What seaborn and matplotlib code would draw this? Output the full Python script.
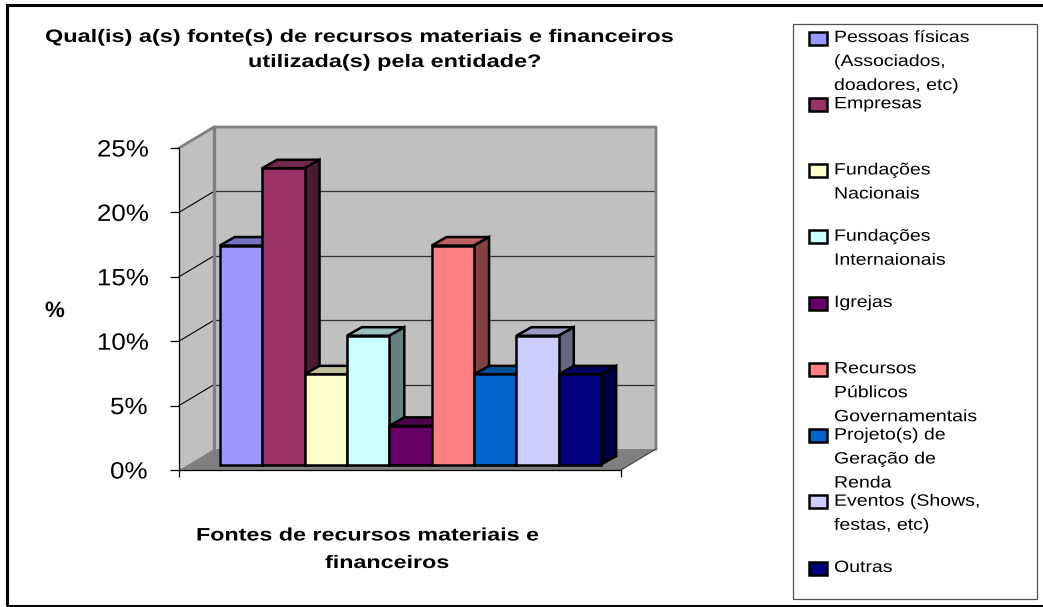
import matplotlib
matplotlib.use('Agg')
import matplotlib.pyplot as plt
import seaborn as sns
import pandas as pd
from matplotlib.colors import to_rgb
from matplotlib.patches import Polygon, Rectangle
from matplotlib.patheffects import AbstractPathEffect
from matplotlib.transforms import Affine2D

# Values
fontes = ['Pessoas físicas', 'Empresas', 'Fundações Nacionais', 'Fundações Internaionais', 'Igrejas',
          'Recursos Públicos Governamentais', 'Projeto(s) de Geração de Renda', 'Eventos', 'Outras']
valores = [17, 23, 7, 10, 3, 17, 7, 10, 7]
cores = ['#9999FF', '#993366', '#FFFFCC', '#CCFFFF', '#660066', '#FF8080', '#0066CC', '#CCCCFF', '#000080']
legenda = [['Pessoas físicas', '(Associados,', 'doadores, etc)'], ['Empresas'], ['Fundações', 'Nacionais'],
           ['Fundações', 'Internaionais'], ['Igrejas'], ['Recursos', 'Públicos', 'Governamentais'],
           ['Projeto(s) de', 'Geração de', 'Renda'], ['Eventos (Shows,', 'festas, etc)'], ['Outras']]
y_ticks = [0, 5, 10, 15, 20, 25]
y_labels = ['0%', '5%', '10%', '15%', '20%', '25%']
titulo = ['Qual(is) a(s) fonte(s) de recursos materiais e financeiros', 'utilizada(s) pela entidade?']
x_titulo = ['Fontes de recursos materiais e', 'financeiros']

W, H = 1043, 607
plt.rcParams['font.family'] = ['Liberation Sans', 'DejaVu Sans']
fig = plt.figure(figsize=(W / 100, H / 100), dpi=100, facecolor='white')


class Esticar(AbstractPathEffect):
    # the original text is letter-spaced, matplotlib can't do that, so widen the glyphs
    def __init__(self, fator):
        super().__init__()
        self.fator = fator

    def draw_path(self, renderer, gc, tpath, affine, rgbFace=None):
        renderer.draw_path(gc, tpath, Affine2D().scale(self.fator, 1) + affine, rgbFace)


def px(x, y):
    # picture pixels (origin top left) to figure fraction
    return x / W, 1 - y / H


def texto(x, y, s, fator, **kw):
    # x is the left edge, y the baseline, in picture pixels
    t = fig.text(*px(x, y), s, ha='left', va='baseline', **kw)
    t.set_path_effects([Esticar(fator)])
    return t


# Outer frame runs off the right and bottom edges, legend box inside it
fig.add_artist(Rectangle(px(7, 606), 1060 / W, 601.5 / H, transform=fig.transFigure, fill=False, ec='black', lw=2.2))
fig.add_artist(Rectangle(px(793, 599), 244 / W, 575 / H, transform=fig.transFigure, fill=False, ec='#505050', lw=0.9))

# Axes sits on the front plane of the 3D box
ax = fig.add_axes([179 / W, 1 - 470 / H, 442 / W, 322 / H])
ax.patch.set_visible(False)
df = pd.DataFrame({'fonte': fontes, 'valor': valores})
sns.barplot(data=df, x='fonte', y='valor', hue='fonte', palette=cores, width=1, legend=False,
            edgecolor='black', linewidth=1.8, saturation=1, ax=ax)
ax.set_xlim(-1.25, 9.18)
ax.set_ylim(0, 25)
sns.despine(ax=ax, top=True, right=True)
for s in ['left', 'bottom']:
    ax.spines[s].set_linewidth(0.9)
ax.set_yticks(y_ticks, y_labels, fontsize=17)
ax.tick_params(axis='y', length=6.5, width=0.9, pad=18.5)
for t in ax.get_yticklabels():
    t.set_path_effects([Esticar(1.1)])
ax.set_xticks(ax.get_xlim(), ['', ''])
ax.tick_params(axis='x', length=5, width=0.9)
ax.set_xlabel('')
ax.set_ylabel('')

# Box: walls and floor, pushed back from the front plane
BACK = (35, 21)
BAR = (9, 5.5)
DEPTH = (15, 8.5)
dados = ax.transData
x0, x1 = ax.get_xlim()
to_px = lambda x, y: dados.transform((x, y))
shift = lambda p, d: (p[0] + d[0], p[1] + d[1])
a, b, c, e = to_px(x0, 0), to_px(x1, 0), to_px(x1, 25), to_px(x0, 25)


def face(pts, fc, ec='none', lw=0, z=1):
    ax.add_patch(Polygon(pts, closed=True, fc=fc, ec=ec, lw=lw, zorder=z, transform=Affine2D(), clip_on=False, joinstyle='miter'))


face([shift(a, BACK), shift(b, BACK), shift(c, BACK), shift(e, BACK)], '#C0C0C0', z=0.5)
face([a, shift(a, BACK), shift(e, BACK), e], '#C0C0C0', z=0.5)
face([a, b, shift(b, BACK), shift(a, BACK)], '#808080', z=0.6)

# Gridlines on the back and side walls
back_t = dados + Affine2D().translate(*BACK)
for v in y_ticks[1:-1]:
    ax.plot([x0, x1], [v, v], color='#303030', lw=0.9, transform=back_t, clip_on=False, zorder=0.7)
    p = to_px(x0, v)
    ax.plot([p[0], p[0] + BACK[0]], [p[1], p[1] + BACK[1]], color='black', lw=0.8, transform=Affine2D(), clip_on=False, zorder=0.7)

# Wall edges
pa, pb, pc, pe = shift(a, BACK), shift(b, BACK), shift(c, BACK), shift(e, BACK)
ax.plot([e[0], pe[0], pc[0], pb[0]], [e[1], pe[1], pc[1], pb[1]], color='#808080', lw=2, transform=Affine2D(), clip_on=False, zorder=0.8)
ax.plot([pa[0], pe[0]], [pa[1], pe[1]], color='#808080', lw=2.4, transform=Affine2D(), clip_on=False, zorder=0.8)
ax.plot([b[0], pb[0]], [b[1], pb[1]], color='#404040', lw=0.8, transform=Affine2D(), clip_on=False, zorder=0.8)

# Bars: seaborn draws the fronts, top and side faces follow from each one
bar_t = dados + Affine2D().translate(*BAR)
for i, bar in enumerate(ax.patches[:len(valores)]):
    z = 2 + i
    bar.set_transform(bar_t)
    bar.set_zorder(z + 0.5)
    bar.set_clip_on(False)
    bar.set_joinstyle('miter')
    x, w, h = bar.get_x(), bar.get_width(), bar.get_height()
    tl = shift(to_px(x, h), BAR)
    tr = shift(to_px(x + w, h), BAR)
    br = shift(to_px(x + w, 0), BAR)
    rgb = to_rgb(cores[i])
    face([tl, tr, shift(tr, DEPTH), shift(tl, DEPTH)], [k * 0.75 for k in rgb], 'black', 1.8, z)
    face([tr, br, shift(br, DEPTH), shift(tr, DEPTH)], [k * 0.5 for k in rgb], 'black', 1.8, z)

# Titles
BOLD = dict(fontsize=13, fontweight='bold')
texto(45, 42, titulo[0], 1.3, **BOLD)
texto(248, 67, titulo[1], 1.3, **BOLD)
texto(45, 317, '%', 1.0, fontsize=16, fontweight='bold')
texto(196, 540.5, x_titulo[0], 1.29, **BOLD)
texto(325, 568, x_titulo[1], 1.29, **BOLD)

# Legend, evenly spaced like the spreadsheet one
for i, (linhas, cor) in enumerate(zip(legenda, cores)):
    yc = 38 + i * 66.25
    fig.add_artist(Rectangle(px(809, yc + 6.5), 18 / W, 13 / H, transform=fig.transFigure, fc=cor, ec='black', lw=1.8))
    for j, linha in enumerate(linhas):
        texto(834, yc + 4 + j * 24, linha, 1.19, fontsize=11.8)

fig.savefig('out.png', dpi=100)
